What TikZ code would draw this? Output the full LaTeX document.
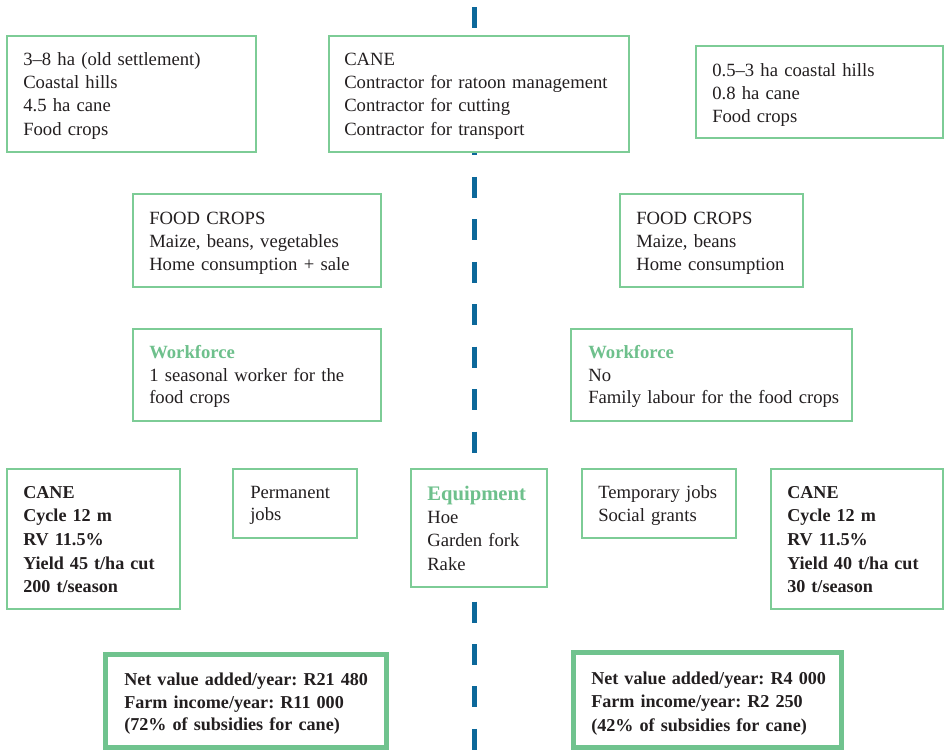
\documentclass[tikz,border=0pt]{standalone}
\usepackage{fontspec}
\setmainfont{Liberation Serif}
\usetikzlibrary{fit}
\definecolor{boxgreen}{RGB}{125,204,150}
\definecolor{thickgreen}{RGB}{112,195,142}
\definecolor{wfgreen}{RGB}{110,192,140}
\definecolor{dashblue}{RGB}{12,104,154}
\definecolor{txtcol}{RGB}{35,31,32}
\frenchspacing
\begin{document}
\begin{tikzpicture}[x=0.75pt,y=-0.75pt,
  thinbox/.style={draw=boxgreen, line width=1pt, fill=white, inner sep=0pt, outer sep=0pt},
  thickbox/.style={draw=thickgreen, line width=3.75pt, fill=white, inner sep=0pt, outer sep=0pt},
  divider/.style={draw=dashblue, line width=3.75pt, dash pattern=on 15.75pt off 16.1pt},
  txt/.style={anchor=base west, inner sep=0pt, align=left, text width=300pt,
    font=\fontsize{14}{17.6}\selectfont\frenchspacing, text=txtcol},
  btxt/.style={txt, font=\fontsize{13.6}{17.8}\selectfont\bfseries\frenchspacing}
]
\useasboundingbox (0,0) rectangle (944,750);
\fill[white] (0,0) rectangle (944,750);
\coordinate (dtop) at (474.5,7);
\coordinate (dbot) at (474.5,750);
\draw[divider] (dtop) -- (dbot);

% top row
\node[thinbox, fit={(7,36) (256,152)}] (b1) {};
\node[txt] (t1) at (23,65) {3–8 ha (old settlement)\\Coastal hills\\4.5 ha cane\\Food crops};
\node[thinbox, fit={(329,36) (629,152)}] (b2) {};
\node[txt] (t2) at (344,65) {CANE\\Contractor for ratoon management\\Contractor for cutting\\Contractor for transport};
\node[thinbox, fit={(696,46) (943,138)}] (b3) {};
\node[txt] (t3) at (712,76) {0.5–3 ha coastal hills\\0.8 ha cane\\Food crops};

% food crops
\node[thinbox, fit={(133,194) (381,287)}] (b4) {};
\node[txt] (t4) at (149,224) {FOOD CROPS\\Maize, beans, vegetables\\Home consumption + sale};
\node[thinbox, fit={(620,194) (803,287)}] (b5) {};
\node[txt] (t5) at (636,224) {FOOD CROPS\\Maize, beans\\Home consumption};

% workforce
\node[thinbox, fit={(133,329) (381,421)}] (b6) {};
\node[txt] (t6) at (149,358) {{\bfseries\color{wfgreen}Workforce}\\1 seasonal worker for the\\[-1.2pt]food crops};
\node[thinbox, fit={(571,329) (852,421)}] (b7) {};
\node[txt] (t7) at (588,358) {{\bfseries\color{wfgreen}Workforce}\\No\\[-1.2pt]Family labour for the food crops};

% cane / jobs / equipment row
\node[thinbox, fit={(7,469) (180,609)}] (b8) {};
\node[btxt] (t8) at (23,498) {CANE\\Cycle 12 m\\RV 11.5\%\\Yield 45 t/ha cut\\200 t/season};
\node[thinbox, fit={(233,469) (357,538)}] (b9) {};
\node[txt] (t9) at (250,498) {Permanent\\[-1.1pt]jobs};
\node[thinbox, fit={(411,469) (547,587)}] (b10) {};
\node[txt] (t10) at (427,500) {{\fontsize{15.5}{17.6}\selectfont\bfseries\color{wfgreen}Equipment}\\Hoe\\Garden fork\\Rake};
\node[thinbox, fit={(582,469) (736,538)}] (b11) {};
\node[txt] (t11) at (598,498) {Temporary jobs\\Social grants};
\node[thinbox, fit={(771,469) (943,609)}] (b12) {};
\node[btxt] (t12) at (787,498) {CANE\\Cycle 12 m\\RV 11.5\%\\Yield 40 t/ha cut\\30 t/season};

% results
\node[thickbox, fit={(105.5,654) (386,747)}] (b13) {};
\node[btxt] (t13) at (124,685) {Net value added/year: R21 480\\Farm income/year: R11 000\\[-1.5pt](72\% of subsidies for cane)};
\node[thickbox, fit={(573,652.5) (841,747)}] (b14) {};
\node[btxt] (t14) at (591,684) {Net value added/year: R4 000\\Farm income/year: R2 250\\(42\% of subsidies for cane)};
\end{tikzpicture}
\end{document}
